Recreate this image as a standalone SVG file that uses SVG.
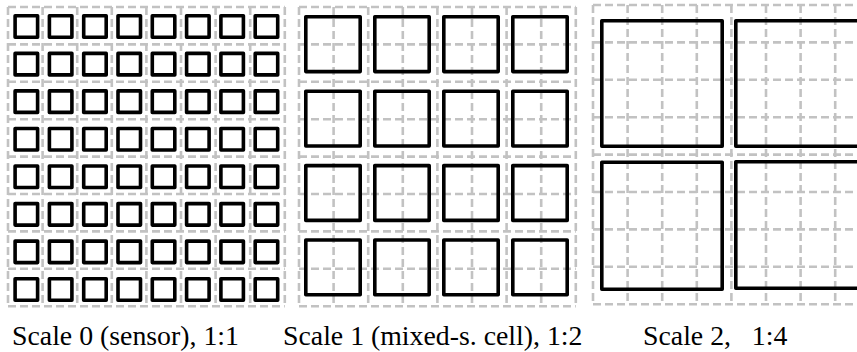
<svg xmlns="http://www.w3.org/2000/svg" width="857" height="352" viewBox="0 0 857 352">
  <style>
    .grid { fill: none; stroke: #c2c2c2; stroke-width: 2.6; stroke-dasharray: 8 4; }
    .cell { fill: none; stroke: #000; stroke-width: 3.6; stroke-linejoin: round; }
    .label { font-family: "Liberation Serif", "Times New Roman", serif; font-size: 27.8px; fill: #000; white-space: pre; }
  </style>
  <defs>
    <rect id="px0" class="cell" width="22.5" height="21.5"/>
    <rect id="px1" class="cell" width="54.4" height="54.8"/>
  </defs>

  <rect width="857" height="352" fill="#fff"/>

  <!-- Scale 0: sensor pixels, 8 x 8 -->
  <g id="scale0">
    <path class="grid" d="M8 7V306.2M42.6 7V306.2M77.2 7V306.2M111.8 7V306.2M146.4 7V306.2M181 7V306.2M215.6 7V306.2M250.2 7V306.2M284.8 7V306.2
      M8 7H284.8M8 44.4H284.8M8 81.8H284.8M8 119.2H284.8M8 156.6H284.8M8 194H284.8M8 231.4H284.8M8 268.8H284.8M8 306.2H284.8"/>
    <g id="scale0-cells">
      <use href="#px0" x="15.1" y="15.8"/><use href="#px0" x="49.4" y="15.8"/><use href="#px0" x="83.7" y="15.8"/><use href="#px0" x="118" y="15.8"/><use href="#px0" x="152.3" y="15.8"/><use href="#px0" x="186.6" y="15.8"/><use href="#px0" x="220.9" y="15.8"/><use href="#px0" x="255.2" y="15.8"/>
      <use href="#px0" x="15.1" y="53.4"/><use href="#px0" x="49.4" y="53.4"/><use href="#px0" x="83.7" y="53.4"/><use href="#px0" x="118" y="53.4"/><use href="#px0" x="152.3" y="53.4"/><use href="#px0" x="186.6" y="53.4"/><use href="#px0" x="220.9" y="53.4"/><use href="#px0" x="255.2" y="53.4"/>
      <use href="#px0" x="15.1" y="90.9"/><use href="#px0" x="49.4" y="90.9"/><use href="#px0" x="83.7" y="90.9"/><use href="#px0" x="118" y="90.9"/><use href="#px0" x="152.3" y="90.9"/><use href="#px0" x="186.6" y="90.9"/><use href="#px0" x="220.9" y="90.9"/><use href="#px0" x="255.2" y="90.9"/>
      <use href="#px0" x="15.1" y="128.5"/><use href="#px0" x="49.4" y="128.5"/><use href="#px0" x="83.7" y="128.5"/><use href="#px0" x="118" y="128.5"/><use href="#px0" x="152.3" y="128.5"/><use href="#px0" x="186.6" y="128.5"/><use href="#px0" x="220.9" y="128.5"/><use href="#px0" x="255.2" y="128.5"/>
      <use href="#px0" x="15.1" y="166"/><use href="#px0" x="49.4" y="166"/><use href="#px0" x="83.7" y="166"/><use href="#px0" x="118" y="166"/><use href="#px0" x="152.3" y="166"/><use href="#px0" x="186.6" y="166"/><use href="#px0" x="220.9" y="166"/><use href="#px0" x="255.2" y="166"/>
      <use href="#px0" x="15.1" y="203.6"/><use href="#px0" x="49.4" y="203.6"/><use href="#px0" x="83.7" y="203.6"/><use href="#px0" x="118" y="203.6"/><use href="#px0" x="152.3" y="203.6"/><use href="#px0" x="186.6" y="203.6"/><use href="#px0" x="220.9" y="203.6"/><use href="#px0" x="255.2" y="203.6"/>
      <use href="#px0" x="15.1" y="241.1"/><use href="#px0" x="49.4" y="241.1"/><use href="#px0" x="83.7" y="241.1"/><use href="#px0" x="118" y="241.1"/><use href="#px0" x="152.3" y="241.1"/><use href="#px0" x="186.6" y="241.1"/><use href="#px0" x="220.9" y="241.1"/><use href="#px0" x="255.2" y="241.1"/>
      <use href="#px0" x="15.1" y="278.7"/><use href="#px0" x="49.4" y="278.7"/><use href="#px0" x="83.7" y="278.7"/><use href="#px0" x="118" y="278.7"/><use href="#px0" x="152.3" y="278.7"/><use href="#px0" x="186.6" y="278.7"/><use href="#px0" x="220.9" y="278.7"/><use href="#px0" x="255.2" y="278.7"/>
    </g>
    <text class="label" x="12" y="345">Scale 0 (sensor), 1:1</text>
  </g>

  <!-- Scale 1: mixed-signal cells, 4 x 4, each covering 2 x 2 pixels -->
  <g id="scale1">
    <path class="grid" d="M299 7V306.2M333.6 7V306.2M368.2 7V306.2M402.8 7V306.2M437.4 7V306.2M472 7V306.2M506.6 7V306.2M541.2 7V306.2M575.8 7V306.2
      M299 7H575.8M299 44.4H575.8M299 81.8H575.8M299 119.2H575.8M299 156.6H575.8M299 194H575.8M299 231.4H575.8M299 268.8H575.8M299 306.2H575.8"/>
    <g id="scale1-cells">
      <use href="#px1" x="305.8" y="16.8"/><use href="#px1" x="374.8" y="16.8"/><use href="#px1" x="443.8" y="16.8"/><use href="#px1" x="512.8" y="16.8"/>
      <use href="#px1" x="305.8" y="91.2"/><use href="#px1" x="374.8" y="91.2"/><use href="#px1" x="443.8" y="91.2"/><use href="#px1" x="512.8" y="91.2"/>
      <use href="#px1" x="305.8" y="165.6"/><use href="#px1" x="374.8" y="165.6"/><use href="#px1" x="443.8" y="165.6"/><use href="#px1" x="512.8" y="165.6"/>
      <use href="#px1" x="305.8" y="240"/><use href="#px1" x="374.8" y="240"/><use href="#px1" x="443.8" y="240"/><use href="#px1" x="512.8" y="240"/>
    </g>
    <text class="label" x="283" y="345">Scale 1 (mixed-s. cell), 1:2</text>
  </g>

  <!-- Scale 2: 2 x 2 blocks, each covering 4 x 4 pixels -->
  <g id="scale2">
    <path class="grid" d="M593 5V304.2M627.6 5V304.2M662.2 5V304.2M696.8 5V304.2M731.4 5V304.2M766 5V304.2M800.6 5V304.2M835.2 5V304.2M869.8 5V304.2
      M593 5H869.8M593 42.4H869.8M593 79.8H869.8M593 117.2H869.8M593 154.6H869.8M593 192H869.8M593 229.4H869.8M593 266.8H869.8M593 304.2H869.8"/>
    <g id="scale2-cells">
      <rect class="cell" x="601.8" y="20.8" width="120.4" height="125.4"/>
      <rect class="cell" x="735.8" y="20.8" width="124.4" height="125.4"/>
      <rect class="cell" x="601.8" y="162.3" width="120.4" height="127"/>
      <rect class="cell" x="735.8" y="161.8" width="124.4" height="126.4"/>
    </g>
    <text class="label" x="643" y="345" xml:space="preserve">Scale 2,   1:4</text>
  </g>
</svg>
